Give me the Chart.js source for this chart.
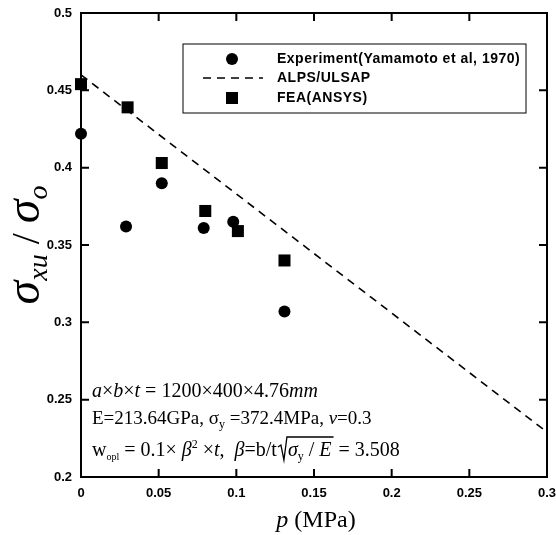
<!DOCTYPE html>
<html>
<head>
<meta charset="utf-8">
<script src="https://cdn.jsdelivr.net/npm/chart.js@4.4.0/dist/chart.umd.min.js"></script>
<style>
  body { margin: 0; background: #fff; }
  #wrap { width: 556px; height: 535px; }
</style>
</head>
<body>
<div id="wrap"><canvas id="chart"></canvas></div>
<script>
// valores
const expP = [0, 0.029, 0.052, 0.079, 0.098, 0.131];
const expRatio = [0.422, 0.362, 0.390, 0.361, 0.365, 0.307];
const feaP = [0, 0.030, 0.052, 0.080, 0.101, 0.131];
const feaRatio = [0.454, 0.439, 0.403, 0.372, 0.359, 0.340];
const alpsP = [0, 0.3];
const alpsRatio = [0.46, 0.229];
const seriesNames = ["Experiment(Yamamoto et al, 1970)", "ALPS/ULSAP", "FEA(ANSYS)"];
const xTicks = [0, 0.05, 0.1, 0.15, 0.2, 0.25, 0.3];
const xTickLabels = ["0", "0.05", "0.1", "0.15", "0.2", "0.25", "0.3"];
const yTicks = [0.2, 0.25, 0.3, 0.35, 0.4, 0.45, 0.5];
const yTickLabels = ["0.2", "0.25", "0.3", "0.35", "0.4", "0.45", "0.5"];

const SERIF = '"Liberation Serif", "Times New Roman", serif';
const SANS = '"Liberation Sans", Arial, sans-serif';

function pts(xs, ys) {
    return xs.map((x, i) => ({ x, y: ys[i] }));
}

// desenha texto com partes em fontes diferentes (italico, indices)
function richText(ctx, x, y, parts, measureOnly) {
    let cx = x;
    parts.forEach(p => {
        ctx.font = p.f;
        const w = ctx.measureText(p.t).width;
        if (!measureOnly) ctx.fillText(p.t, cx, y + (p.dy || 0));
        cx += w;
    });
    return cx - x;
}

const R = "20px " + SERIF, I = "italic 20px " + SERIF, S = "12px " + SERIF;
const R2 = "19px " + SERIF, I2 = "italic 19px " + SERIF;

const framePlugin = {
    id: "frame",
    afterDatasetsDraw(chart) {
        const { ctx, chartArea: a, scales } = chart;
        ctx.save();
        ctx.strokeStyle = "#000";
        ctx.lineWidth = 2;
        ctx.strokeRect(a.left, a.top, a.right - a.left, a.bottom - a.top);
        // ticks para dentro
        ctx.beginPath();
        scales.x.ticks.forEach(t => {
            const px = scales.x.getPixelForValue(t.value);
            ctx.moveTo(px, a.bottom); ctx.lineTo(px, a.bottom - 8);
            ctx.moveTo(px, a.top); ctx.lineTo(px, a.top + 8);
        });
        scales.y.ticks.forEach(t => {
            const py = scales.y.getPixelForValue(t.value);
            ctx.moveTo(a.left, py); ctx.lineTo(a.left + 8, py);
            ctx.moveTo(a.right, py); ctx.lineTo(a.right - 8, py);
        });
        ctx.stroke();

        // legenda
        const lx = 183, ly = 44;
        ctx.lineWidth = 1;
        ctx.strokeRect(lx, ly, 343, 69);
        const mx = lx + 49, tx = lx + 94;
        const rows = [ly + 15, ly + 34, ly + 54];
        ctx.fillStyle = "#000";
        ctx.beginPath();
        ctx.arc(mx, rows[0], 6, 0, Math.PI * 2);
        ctx.fill();
        ctx.fillRect(mx - 6, rows[2] - 6, 12, 12);
        ctx.lineWidth = 1.6;
        ctx.setLineDash([8, 6]);
        ctx.beginPath();
        ctx.moveTo(lx + 20, rows[1]); ctx.lineTo(lx + 80, rows[1]);
        ctx.stroke();
        ctx.setLineDash([]);
        ctx.font = "bold 14px " + SANS;
        ctx.letterSpacing = "0.5px";
        ctx.textBaseline = "middle";
        seriesNames.forEach((n, i) => ctx.fillText(n, tx, rows[i]));
        ctx.letterSpacing = "0px";

        // anotacoes
        ctx.textBaseline = "alphabetic";
        const ax = a.left + 11;
        richText(ctx, ax, 397, [
            { t: "a", f: I }, { t: "×", f: R }, { t: "b", f: I }, { t: "×", f: R }, { t: "t", f: I },
            { t: " = 1200×400×4.76", f: R }, { t: "mm", f: I }
        ]);
        richText(ctx, ax, 424, [
            { t: "E=213.64GPa, σ", f: R2 }, { t: "y", f: S, dy: 4 }, { t: " =372.4MPa, ", f: R2 },
            { t: "ν", f: I2 }, { t: "=0.3", f: R2 }
        ]);
        let w = richText(ctx, ax, 456, [
            { t: "w", f: R }, { t: "opl", f: "10px " + SERIF, dy: 4 }, { t: " = 0.1× ", f: R },
            { t: "β", f: I }, { t: "2", f: S, dy: -8 }, { t: " ×", f: R }, { t: "t", f: I },
            { t: ",  ", f: R }, { t: "β", f: I }, { t: "=b/t", f: R }
        ]);
        const rx = ax + w + 1;
        const rad = [{ t: "σ", f: I }, { t: "y", f: S, dy: 4 }, { t: " / ", f: R }, { t: "E", f: I }];
        const rw = richText(ctx, rx + 10, 456, rad, true);
        ctx.lineWidth = 1.3;
        ctx.beginPath();
        ctx.moveTo(rx, 447); ctx.lineTo(rx + 3, 445); ctx.lineTo(rx + 6, 460);
        ctx.lineTo(rx + 9, 437); ctx.lineTo(rx + 10 + rw + 2, 437);
        ctx.stroke();
        richText(ctx, rx + 10, 456, rad);
        richText(ctx, rx + 10 + rw + 2, 456, [{ t: " = 3.508", f: R }]);

        // titulos dos eixos
        const xt = [{ t: "p", f: "italic 24px " + SERIF }, { t: " (MPa)", f: "24px " + SERIF }];
        const xw = richText(ctx, 0, 0, xt, true);
        richText(ctx, 316 - xw / 2, 527, xt);

        const yt = [
            { t: "σ", f: "italic 48px " + SERIF }, { t: "xu", f: "italic 28px " + SERIF, dy: 8 },
            { t: " / ", f: "40px " + SERIF },
            { t: "σ", f: "italic 48px " + SERIF }, { t: "o", f: "italic 28px " + SERIF, dy: 8 }
        ];
        const yw = richText(ctx, 0, 0, yt, true);
        ctx.translate(39, 245);
        ctx.rotate(-Math.PI / 2);
        richText(ctx, -yw / 2, 0, yt);
        ctx.restore();
    }
};

const ctx = document.getElementById("chart").getContext("2d");
new Chart(ctx, {
    type: "scatter",
    data: {
        datasets: [
            {
                label: seriesNames[0],
                data: pts(expP, expRatio),
                pointStyle: "circle",
                pointRadius: 6,
                pointBackgroundColor: "#000",
                pointBorderColor: "#000",
                pointBorderWidth: 0,
                clip: false
            },
            {
                label: seriesNames[1],
                data: pts(alpsP, alpsRatio),
                showLine: true,
                pointRadius: 0,
                borderColor: "#000",
                borderWidth: 1.6,
                borderDash: [8, 6],
                clip: false
            },
            {
                label: seriesNames[2],
                data: pts(feaP, feaRatio),
                pointStyle: "rect",
                pointRadius: 8.5,
                pointBackgroundColor: "#000",
                pointBorderColor: "#000",
                pointBorderWidth: 0,
                clip: false
            }
        ]
    },
    options: {
        responsive: true,
        maintainAspectRatio: false,
        animation: false,
        events: [],
        layout: { padding: { top: 13, right: 9, left: 0, bottom: 0 } },
        plugins: { legend: { display: false }, tooltip: { enabled: false } },
        scales: {
            x: {
                type: "linear",
                min: 0, max: 0.3,
                afterBuildTicks: s => { s.ticks = xTicks.map(v => ({ value: v })); },
                afterFit: s => { s.height = 58; s.paddingLeft = 0; s.paddingRight = 0; },
                grid: { display: false, drawTicks: false, tickLength: 0 },
                border: { display: false },
                ticks: {
                    padding: 9,
                    maxRotation: 0,
                    color: "#000",
                    font: { family: SANS, size: 13, weight: "bold" },
                    callback: (v, i) => xTickLabels[i]
                }
            },
            y: {
                type: "linear",
                min: 0.2, max: 0.5,
                afterBuildTicks: s => { s.ticks = yTicks.map(v => ({ value: v })); },
                afterFit: s => { s.width = 81; s.paddingTop = 0; s.paddingBottom = 0; },
                grid: { display: false, drawTicks: false, tickLength: 0 },
                border: { display: false },
                ticks: {
                    padding: 9,
                    color: "#000",
                    font: { family: SANS, size: 13, weight: "bold" },
                    callback: (v, i) => yTickLabels[i]
                }
            }
        }
    },
    plugins: [framePlugin]
});
</script>
</body>
</html>
